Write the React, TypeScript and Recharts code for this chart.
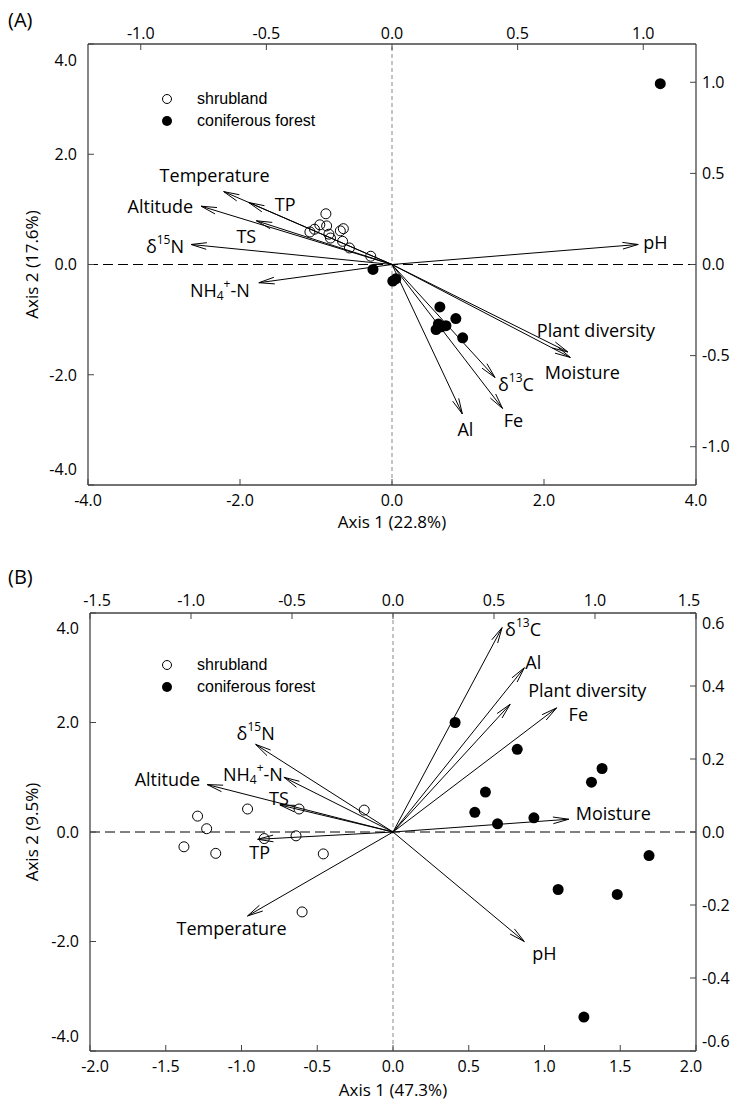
import React from "react";
import { ScatterChart, Scatter, XAxis, YAxis, ReferenceLine, Legend } from "recharts";

const FONT = '"Open Sans", sans-serif';

// ---- panel A: site scores (axis 1 / axis 2) ----
const A_SHRUB_X = [-0.87, -0.95, -0.86, -1.02, -1.08, -0.83, -0.81, -0.64, -0.68, -0.65, -0.56, -0.28];
const A_SHRUB_Y = [0.92, 0.72, 0.7, 0.64, 0.59, 0.55, 0.48, 0.65, 0.61, 0.42, 0.3, 0.15];
const A_FOREST_X = [-0.25, 0.01, 0.05, 0.63, 0.84, 0.61, 0.58, 0.71, 0.65, 0.93, 3.53];
const A_FOREST_Y = [-0.09, -0.3, -0.26, -0.77, -0.98, -1.08, -1.18, -1.11, -1.13, -1.33, 3.28];
// environmental vectors (top / right axes)
const A_VARS = ["pH", "Plant diversity", "Moisture", "δ13C", "Fe", "Al", "Temperature", "TP", "Altitude", "TS", "δ15N", "NH4+-N"];
const A_VAR_X = [0.98, 0.7, 0.71, 0.41, 0.44, 0.28, -0.67, -0.57, -0.76, -0.54, -0.8, -0.53];
const A_VAR_Y = [0.11, -0.48, -0.51, -0.62, -0.79, -0.82, 0.4, 0.34, 0.32, 0.24, 0.11, -0.1];

// ---- panel B ----
const B_SHRUB_X = [-0.19, -0.62, -0.96, -1.29, -1.23, -1.38, -1.17, -0.85, -0.64, -0.46, -0.6];
const B_SHRUB_Y = [0.4, 0.42, 0.42, 0.29, 0.06, -0.27, -0.39, -0.12, -0.07, -0.4, -1.46];
const B_FOREST_X = [0.41, 0.82, 0.61, 1.38, 1.31, 0.54, 0.69, 0.93, 1.69, 1.09, 1.48, 1.26];
const B_FOREST_Y = [2.0, 1.51, 0.73, 1.16, 0.91, 0.36, 0.15, 0.26, -0.43, -1.05, -1.14, -3.38];
const B_VARS = ["δ13C", "Al", "Plant diversity", "Fe", "Moisture", "pH", "δ15N", "NH4+-N", "Altitude", "TS", "TP", "Temperature"];
const B_VAR_X = [0.54, 0.65, 0.58, 0.81, 0.87, 0.65, -0.68, -0.54, -0.92, -0.56, -0.67, -0.72];
const B_VAR_Y = [0.56, 0.45, 0.35, 0.34, 0.035, -0.3, 0.24, 0.15, 0.13, 0.074, -0.02, -0.23];

// tick values
const A_X_TICKS = [-4, -2, 0, 2, 4];
const A_Y_TICKS = [-4, -2, 0, 2, 4];
const A_T_TICKS = [-1, -0.5, 0, 0.5, 1];
const A_R_TICKS = [-1, -0.5, 0, 0.5, 1];
const B_X_TICKS = [-2, -1.5, -1, -0.5, 0, 0.5, 1, 1.5, 2];
const B_Y_TICKS = [-4, -2, 0, 2, 4];
const B_T_TICKS = [-1.5, -1, -0.5, 0, 0.5, 1, 1.5];
const B_R_TICKS = [-0.6, -0.4, -0.2, 0, 0.2, 0.4, 0.6];

// label placement relative to arrow tip: [anchor, dx, dy]
type LabelPos = Record<string, [string, number, number]>;
const A_LABEL_POS: LabelPos = {
  pH: ["start", 5, -2],
  "Plant diversity": ["start", -31, -22],
  Moisture: ["middle", 12, 15],
  "δ13C": ["start", 3, 7],
  Fe: ["middle", 11, 12],
  Al: ["middle", 3, 15],
  Temperature: ["middle", -9, -17],
  TP: ["start", 26, 1],
  Altitude: ["end", -8, 0],
  TS: ["middle", -10, 15],
  "δ15N": ["end", -7, 2],
  "NH4+-N": ["end", -9, 7],
};
const B_LABEL_POS: LabelPos = {
  "δ13C": ["start", 3, 1],
  Al: ["start", 1, -6],
  "Plant diversity": ["start", 18, -14],
  Fe: ["start", 12, 6],
  Moisture: ["start", 7, -6],
  pH: ["start", 8, 11],
  "δ15N": ["middle", 0, -11],
  "NH4+-N": ["end", -1, -3],
  Altitude: ["end", -7, -6],
  TS: ["middle", -1, -7],
  TP: ["middle", 2, 13],
  Temperature: ["middle", -16, 12],
};

const pts = (xs: number[], ys: number[]) => xs.map((x, i) => ({ x, y: ys[i] }));

function VarText({ name, x, y, anchor }: { name: string; x: number; y: number; anchor: string }) {
  const common = { x, y, textAnchor: anchor as any, dominantBaseline: "central" as any, fontFamily: FONT, fontSize: 18, fill: "#000" };
  if (name === "δ13C" || name === "δ15N") {
    const sup = name.slice(1, 3);
    const tail = name.slice(3);
    return (
      <text {...common}>
        δ<tspan dy={-7} fontSize={12}>{sup}</tspan>
        <tspan dy={7}>{tail}</tspan>
      </text>
    );
  }
  if (name === "NH4+-N") {
    return (
      <text {...common}>
        NH<tspan dy={5} fontSize={12}>4</tspan>
        <tspan dy={-12} fontSize={12}>+</tspan>
        <tspan dy={7}>-N</tspan>
      </text>
    );
  }
  return <text {...common}>{name}</text>;
}

const arrowShape = (name: string, pos: [string, number, number]) => (p: any) => {
  const { x1, y1, x2, y2 } = p;
  if (![x1, y1, x2, y2].every(Number.isFinite)) return <g />;
  const ang = Math.atan2(y2 - y1, x2 - x1);
  const L = 16;
  const w = 0.21;
  const bx1 = x2 - L * Math.cos(ang - w);
  const by1 = y2 - L * Math.sin(ang - w);
  const bx2 = x2 - L * Math.cos(ang + w);
  const by2 = y2 - L * Math.sin(ang + w);
  return (
    <g>
      <line x1={x1} y1={y1} x2={x2} y2={y2} stroke="#000" strokeWidth={1} />
      <polyline points={`${bx1},${by1} ${x2},${y2} ${bx2},${by2}`} fill="none" stroke="#000" strokeWidth={1} />
      <VarText name={name} x={x2 + pos[1]} y={y2 + pos[2]} anchor={pos[0]} />
    </g>
  );
};

type Side = "left" | "right" | "top" | "bottom";
const tickRenderer = (side: Side, shift: number) => (p: any) => {
  let x = p.x;
  let y = p.y;
  const first = p.index === 0;
  const last = p.index === p.visibleTicksCount - 1;
  if (side === "left" || side === "right") {
    if (first) y -= shift;
    if (last) y += shift;
  } else {
    if (first) x += shift;
    if (last) x -= shift;
  }
  const anchor = side === "left" ? "end" : side === "right" ? "start" : "middle";
  const dy = side === "bottom" ? "0.72em" : side === "top" ? 0 : "0.36em";
  return (
    <text x={x} y={y} dy={dy} textAnchor={anchor} fontFamily={FONT} fontSize={16} fill="#000">
      {Number(p.payload.value).toFixed(1)}
    </text>
  );
};

const legendContent = () => (
  <div style={{ fontFamily: '"Liberation Sans", Arial, sans-serif', fontSize: 16, lineHeight: "22px", color: "#000" }}>
    <div style={{ display: "flex", alignItems: "center" }}>
      <svg width={12} height={12}><circle cx={6} cy={6} r={4.5} fill="#fff" stroke="#000" /></svg>
      <span style={{ marginLeft: 24 }}>shrubland</span>
    </div>
    <div style={{ display: "flex", alignItems: "center" }}>
      <svg width={12} height={12}><circle cx={6} cy={6} r={5} fill="#000" /></svg>
      <span style={{ marginLeft: 24 }}>coniferous forest</span>
    </div>
  </div>
);

type PanelProps = {
  height: number;
  topH: number;
  bottomH: number;
  leftW: number;
  rightW: number;
  xDomain: [number, number];
  yDomain: [number, number];
  tDomain: [number, number];
  rDomain: [number, number];
  xTicks: number[];
  yTicks: number[];
  tTicks: number[];
  rTicks: number[];
  shrub: { x: number; y: number }[];
  forest: { x: number; y: number }[];
  vars: { name: string; x: number; y: number }[];
  labelPos: LabelPos;
  xTitle: string;
  yTitle: string;
  xTitleOffset: number;
  topMargin: number;
  shifts: { left: number; right: number; top: number; bottom: number };
  legendTop: number;
};

const AXIS_LINE = { stroke: "#444", strokeWidth: 1.3 };
const TICK_LINE = { stroke: "#444", strokeWidth: 1 };

function Biplot(p: PanelProps) {
  return (
    <ScatterChart width={734} height={p.height} margin={{ top: 0, right: 0, bottom: 0, left: 0 }}>
      <XAxis
        xAxisId="b"
        type="number"
        dataKey="x"
        domain={p.xDomain}
        allowDataOverflow
        ticks={p.xTicks}
        interval={0}
        height={p.bottomH}
        axisLine={AXIS_LINE}
        tickLine={TICK_LINE}
        tickSize={-6}
        tickMargin={15}
        tick={tickRenderer("bottom", p.shifts.bottom)}
        label={{ value: p.xTitle, position: "insideTop", offset: p.xTitleOffset, style: { fontFamily: FONT, fontSize: 17, fill: "#000" } }}
      />
      <XAxis
        xAxisId="t"
        orientation="top"
        type="number"
        dataKey="x"
        domain={p.tDomain}
        allowDataOverflow
        ticks={p.tTicks}
        interval={0}
        height={p.topH}
        axisLine={AXIS_LINE}
        tickLine={TICK_LINE}
        tickSize={-6}
        tickMargin={p.topMargin}
        tick={tickRenderer("top", p.shifts.top)}
      />
      <YAxis
        yAxisId="l"
        type="number"
        dataKey="y"
        domain={p.yDomain}
        allowDataOverflow
        ticks={p.yTicks}
        interval={0}
        width={p.leftW}
        axisLine={AXIS_LINE}
        tickLine={TICK_LINE}
        tickSize={-6}
        tickMargin={17}
        tick={tickRenderer("left", p.shifts.left)}
        label={{ value: p.yTitle, angle: -90, position: "insideLeft", offset: 32, style: { fontFamily: FONT, fontSize: 17, fill: "#000", textAnchor: "middle" } }}
      />
      <YAxis
        yAxisId="r"
        orientation="right"
        type="number"
        dataKey="y"
        domain={p.rDomain}
        allowDataOverflow
        ticks={p.rTicks}
        interval={0}
        width={p.rightW}
        axisLine={AXIS_LINE}
        tickLine={TICK_LINE}
        tickSize={-6}
        tickMargin={12}
        tick={tickRenderer("right", p.shifts.right)}
      />
      <ReferenceLine xAxisId="b" yAxisId="l" y={0} stroke="#000" strokeDasharray="10 5" strokeWidth={1} />
      <ReferenceLine xAxisId="b" yAxisId="l" x={0} stroke="#888" strokeDasharray="4 3" strokeWidth={1} />
      {/* arrow tips, so the top/right axes carry data */}
      <Scatter
        name="vectors"
        xAxisId="t"
        yAxisId="r"
        data={p.vars}
        isAnimationActive={false}
        legendType="none"
        shape={() => <g />}
      />
      {p.vars.map((v) => (
        <ReferenceLine
          key={v.name}
          xAxisId="t"
          yAxisId="r"
          segment={[{ x: 0, y: 0 }, { x: v.x, y: v.y }]}
          ifOverflow="visible"
          shape={arrowShape(v.name, p.labelPos[v.name])}
        />
      ))}
      <Scatter
        name="shrubland"
        xAxisId="b"
        yAxisId="l"
        data={p.shrub}
        isAnimationActive={false}
        shape={(s: any) => <circle cx={s.cx} cy={s.cy} r={5} fill="none" stroke="#000" strokeWidth={1} />}
      />
      <Scatter
        name="coniferous forest"
        xAxisId="b"
        yAxisId="l"
        data={p.forest}
        isAnimationActive={false}
        shape={(s: any) => <circle cx={s.cx} cy={s.cy} r={5.5} fill="#000" />}
      />
      <Legend
        layout="vertical"
        align="center"
        verticalAlign="middle"
        content={legendContent}
        wrapperStyle={{ left: 161, top: p.legendTop, width: "auto", height: "auto" }}
      />
    </ScatterChart>
  );
}

export default function App() {
  const varsA = A_VARS.map((name, i) => ({ name, x: A_VAR_X[i], y: A_VAR_Y[i] }));
  const varsB = B_VARS.map((name, i) => ({ name, x: B_VAR_X[i], y: B_VAR_Y[i] }));
  return (
    <div style={{ position: "absolute", left: 0, top: 0, width: 734, height: 1113, background: "#fff" }}>
      <div style={{ position: "absolute", left: 8, top: 6, fontFamily: FONT, fontSize: 20 }}>(A)</div>
      <div style={{ position: "absolute", left: 8, top: 563, fontFamily: FONT, fontSize: 20 }}>(B)</div>
      <div style={{ position: "absolute", left: 0, top: 0 }}>
        <Biplot
          height={540}
          topH={44}
          bottomH={55}
          leftW={88}
          rightW={38}
          xDomain={[-4, 4]}
          yDomain={[-4, 4]}
          tDomain={[-1.21, 1.21]}
          rDomain={[-1.21, 1.21]}
          xTicks={A_X_TICKS}
          yTicks={A_Y_TICKS}
          tTicks={A_T_TICKS}
          rTicks={A_R_TICKS}
          shrub={pts(A_SHRUB_X, A_SHRUB_Y)}
          forest={pts(A_FOREST_X, A_FOREST_Y)}
          vars={varsA}
          labelPos={A_LABEL_POS}
          xTitle="Axis 1 (22.8%)"
          yTitle="Axis 2 (17.6%)"
          xTitleOffset={31}
          topMargin={11}
          shifts={{ left: 16, right: 0, top: 0, bottom: 0 }}
          legendTop={88}
        />
      </div>
      <div style={{ position: "absolute", left: 0, top: 560 }}>
        <Biplot
          height={553}
          topH={53}
          bottomH={62}
          leftW={90}
          rightW={38}
          xDomain={[-2, 2]}
          yDomain={[-4, 4]}
          tDomain={[-1.5, 1.5]}
          rDomain={[-0.6, 0.6]}
          xTicks={B_X_TICKS}
          yTicks={B_Y_TICKS}
          tTicks={B_T_TICKS}
          rTicks={B_R_TICKS}
          shrub={pts(B_SHRUB_X, B_SHRUB_Y)}
          forest={pts(B_FOREST_X, B_FOREST_Y)}
          vars={varsB}
          labelPos={B_LABEL_POS}
          xTitle="Axis 1 (47.3%)"
          yTitle="Axis 2 (9.5%)"
          xTitleOffset={33}
          topMargin={13}
          shifts={{ left: 15, right: 10, top: 7, bottom: 5 }}
          legendTop={94}
        />
      </div>
    </div>
  );
}
